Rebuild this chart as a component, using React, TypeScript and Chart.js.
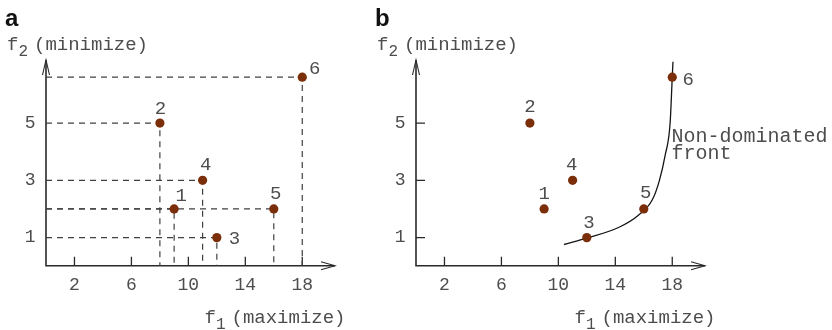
import React, { useEffect, useRef } from 'react';
import { Chart, registerables } from 'chart.js';

Chart.register(...registerables);

// ---- data ----
const solutionIds = ['1', '2', '3', '4', '5', '6'];
const f1Values = [9, 8, 12, 11, 16, 18];
const f2Values = [2, 5, 1, 3, 2, 6.6];
const xTickValues = [2, 6, 10, 14, 18];
const yTickValues = [1, 3, 5];
const frontF1 = [10.4, 12, 14.3, 15.6, 16.6, 17.1, 17.5, 17.85, 18.0, 18.05];
const frontF2 = [0.76, 0.98, 1.37, 1.77, 2.32, 3.0, 3.87, 5.0, 6.6, 7.14];
const xAxisMax = 20.3;
const yAxisMin = 0.02;
const yAxisMax = 7.2;

const panelLetters = ['a', 'b'];
const xTitleParts = ['f', '1', '(maximize)'];
const yTitleParts = ['f', '2', '(minimize)'];
const frontLabelLines = ['Non-dominated', 'front'];

// ---- style ----
const MONO = '"Liberation Mono", "Courier New", monospace';
const TEXT = '#4d4d4d';
const POINT = '#7a2e0a';
const labelOffsetsA = [[7, -13.5], [0.5, -15], [17.5, 0], [3, -16.5], [2, -15.5], [12.5, -9]];
const labelOffsetsB = [[0, -15.5], [0, -17], [2, -16], [-1, -16.5], [2, -17], [16, 1.5]];

function drawTitle(ctx: CanvasRenderingContext2D, x: number, base: number, parts: string[]) {
  ctx.textAlign = 'left';
  ctx.textBaseline = 'alphabetic';
  ctx.font = `19px ${MONO}`;
  ctx.fillText(parts[0], x, base);
  ctx.font = `16px ${MONO}`;
  ctx.fillText(parts[1], x + 11.4, base + 6);
  ctx.font = `19px ${MONO}`;
  ctx.fillText(parts[2], x + 27, base);
}

function makeOverlay(panel: number, offsets: number[][]) {
  return {
    id: 'overlay' + panel,
    beforeDatasetsDraw(chart: any) {
      const { ctx, chartArea } = chart;
      const { left, right, top, bottom } = chartArea;
      const xs = chart.scales.x;
      const ys = chart.scales.y;
      ctx.save();
      ctx.strokeStyle = '#2a2a2a';
      ctx.lineWidth = 1.6;
      ctx.beginPath();
      ctx.moveTo(left, top);
      ctx.lineTo(left, bottom);
      ctx.lineTo(right, bottom);
      ctx.stroke();
      ctx.lineWidth = 1.1;
      ctx.beginPath();
      ctx.moveTo(right - 14, bottom - 4);
      ctx.lineTo(right, bottom);
      ctx.lineTo(right - 14, bottom + 4);
      ctx.stroke();
      ctx.beginPath();
      ctx.moveTo(left - 3.5, top + 15);
      ctx.lineTo(left, top);
      ctx.lineTo(left + 3.5, top + 15);
      ctx.stroke();
      ctx.lineWidth = 1.3;
      ctx.beginPath();
      for (const v of xTickValues) {
        const px = xs.getPixelForValue(v);
        ctx.moveTo(px, bottom);
        ctx.lineTo(px, bottom - 9);
      }
      if (panel === 1) {
        for (const v of yTickValues) {
          const py = ys.getPixelForValue(v);
          ctx.moveTo(left, py);
          ctx.lineTo(left + 9, py);
        }
      }
      ctx.stroke();
      ctx.restore();
    },
    afterDatasetsDraw(chart: any) {
      const { ctx, chartArea } = chart;
      const { left, bottom } = chartArea;
      const xs = chart.scales.x;
      const ys = chart.scales.y;
      ctx.save();
      ctx.fillStyle = TEXT;
      // point labels
      ctx.font = `19px ${MONO}`;
      ctx.textAlign = 'center';
      ctx.textBaseline = 'alphabetic';
      solutionIds.forEach((id, i) => {
        const px = xs.getPixelForValue(f1Values[i]) + offsets[i][0];
        const py = ys.getPixelForValue(f2Values[i]) + offsets[i][1];
        ctx.fillText(id, px, py + 6);
      });
      // axis titles
      drawTitle(ctx, left - 39, 50, yTitleParts);
      drawTitle(ctx, left + 158.5, bottom + 57, xTitleParts);
      // front label
      if (panel === 1) {
        ctx.font = `20px ${MONO}`;
        ctx.textAlign = 'left';
        ctx.fillText(frontLabelLines[0], left + 255.5, 141.7);
        ctx.fillText(frontLabelLines[1], left + 255.5, 159.4);
      }
      // panel letter
      ctx.fillStyle = '#111';
      ctx.font = `bold 24px "Liberation Sans", Arial, sans-serif`;
      ctx.textAlign = 'left';
      ctx.fillText(panelLetters[panel], left - 41, 26);
      ctx.restore();
    },
  };
}

function makeConfig(panel: number): any {
  const points = {
    type: 'scatter',
    data: f1Values.map((x, i) => ({ x, y: f2Values[i] })),
    pointRadius: 4.6,
    pointHoverRadius: 4.6,
    backgroundColor: POINT,
    borderColor: POINT,
    borderWidth: 0,
    order: 0,
  };
  const datasets: any[] = [points];
  if (panel === 0) {
    f1Values.forEach((x, i) => {
      const y = f2Values[i];
      datasets.push({
        type: 'line',
        data: [{ x: 0, y }, { x, y }, { x, y: yAxisMin }],
        borderColor: '#404040',
        borderWidth: 1.2,
        borderDash: [6, 5],
        pointRadius: 0,
        fill: false,
        tension: 0,
        order: 1,
      });
    });
  } else {
    datasets.push({
      type: 'line',
      data: frontF1.map((x, i) => ({ x, y: frontF2[i] })),
      borderColor: '#151515',
      borderWidth: 1.3,
      pointRadius: 0,
      fill: false,
      cubicInterpolationMode: 'monotone',
      order: 1,
    });
  }
  return {
    type: 'scatter',
    data: { datasets },
    options: {
      responsive: false,
      animation: false,
      devicePixelRatio: 1,
      events: [],
      layout: { padding: { top: 60, right: panel === 0 ? 35 : 127, left: 0, bottom: 0 } },
      plugins: { legend: { display: false }, tooltip: { enabled: false } },
      scales: {
        x: {
          type: 'linear',
          min: 0,
          max: xAxisMax,
          grid: { display: false, drawTicks: false },
          border: { display: false },
          ticks: { font: { family: MONO, size: 18 }, color: TEXT, padding: 9 },
          afterBuildTicks: (s: any) => {
            s.ticks = xTickValues.map((v) => ({ value: v }));
          },
          afterFit: (s: any) => {
            s.height = 64.3;
          },
        },
        y: {
          type: 'linear',
          min: yAxisMin,
          max: yAxisMax,
          grid: { display: false, drawTicks: false },
          border: { display: false },
          ticks: { font: { family: MONO, size: 18 }, color: TEXT, padding: 10.5 },
          afterBuildTicks: (s: any) => {
            s.ticks = yTickValues.map((v) => ({ value: v }));
          },
          afterFit: (s: any) => {
            s.width = 46;
          },
        },
      },
    },
    plugins: [makeOverlay(panel, panel === 0 ? labelOffsetsA : labelOffsetsB)],
  };
}

export default function App() {
  const refA = useRef<HTMLCanvasElement>(null);
  const refB = useRef<HTMLCanvasElement>(null);
  useEffect(() => {
    const a = new Chart(refA.current as HTMLCanvasElement, makeConfig(0));
    const b = new Chart(refB.current as HTMLCanvasElement, makeConfig(1));
    return () => {
      a.destroy();
      b.destroy();
    };
  }, []);
  return (
    <div style={{ position: 'fixed', left: 0, top: 0, width: 832, height: 330, background: '#fff' }}>
      <canvas ref={refA} width={370} height={330} style={{ position: 'absolute', left: 0, top: 0 }} />
      <canvas ref={refB} width={462} height={330} style={{ position: 'absolute', left: 370, top: 0 }} />
    </div>
  );
}
